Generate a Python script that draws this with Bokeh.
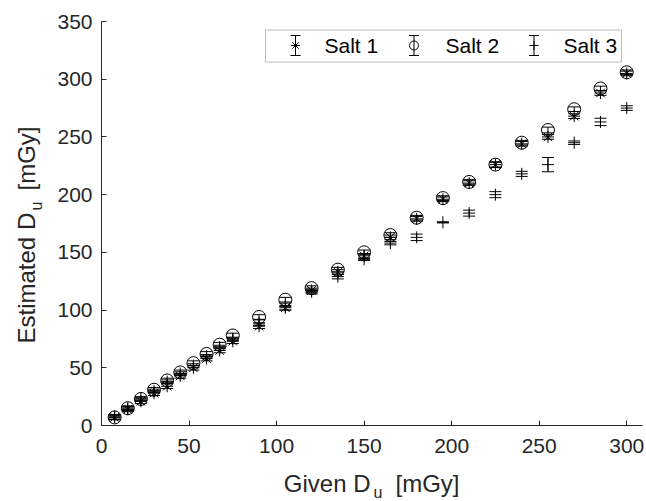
import math
from bokeh.plotting import figure
from bokeh.layouts import row, column
from bokeh.models import (ColumnDataSource, Whisker, TeeHead, FixedTicker, Range1d,
                          Label, BoxAnnotation)
from bokeh.embed import file_html
from bokeh.resources import INLINE

# ---------------- data ----------------
given_dose = [7.5, 15, 22.5, 30, 37.5, 45, 52.5, 60, 67.5, 75, 90, 105, 120,
              135, 150, 165, 180, 195, 210, 225, 240, 255, 270, 285, 300]

salt1 = [7, 14, 21, 28, 34, 43, 50, 58, 65, 73, 86, 102, 117,
         133, 147, 163, 179, 196, 210, 226, 244, 250, 268, 288, 305]
salt1_err = [2, 2, 2, 2, 2, 2, 2, 2, 2, 2, 2, 2, 2,
             2, 2, 2, 2, 2, 2, 2, 2, 2, 2, 2, 2]

salt2 = [7, 15, 23, 31, 39, 46, 54, 62, 70, 78, 94, 109, 119,
         135, 150, 165, 180, 197, 211, 226, 245, 256, 274, 292, 306]
salt2_err = [2, 2, 2, 2, 2, 2, 2, 2, 2, 2, 2, 2, 2,
             2, 2, 2, 2, 2, 2, 2.5, 2, 2.5, 2, 2, 2]

salt3 = [8, 15, 23, 30, 38, 45, 52, 60, 68, 75, 89, 103, 116,
         129, 144, 158, 163, 176, 184, 200, 218, 226, 245, 263, 275]
salt3_err = [1.5, 1.5, 1.5, 1.5, 1.5, 1.5, 1.5, 1.5, 1.5, 1.5, 2.5, 3, 2,
             2, 1, 1.5, 2.8, 0.5, 2.6, 2.6, 2.2, 6.2, 1.5, 3.2, 2]

series_names = ["Salt 1", "Salt 2", "Salt 3"]
x_label_parts = ["Given D", "u", "[mGy]"]
y_label_parts = ["Estimated D", "u", "[mGy]"]
x_ticks = [0, 50, 100, 150, 200, 250, 300]
y_ticks = [0, 50, 100, 150, 200, 250, 300, 350]
x_max, y_max = 309, 350

# ---------------- layout (page pixels) ----------------
W, H = 646, 501
LEFT_STRIP = 50          # width of the strip holding the y label
BOTTOM_STRIP = 35        # height of the strip holding the x label
FL, FR, FT, FB = 101, 642, 21, 425   # frame edges on the page
AX = "#262626"
FONT = "Liberation Sans"
LBL = "24px"
SUB = "16px"
OFF_L = 9   # anchor shift so the rendered baseline lands where wanted
OFF_S = 6


def fx(px):
    return (px - FL) / (FR - FL) * x_max


def fy(py):
    return (FB - py) / (FB - FT) * y_max


main_w = W - LEFT_STRIP
main_h = H - BOTTOM_STRIP
p = figure(width=main_w, height=main_h, x_range=Range1d(0, x_max), y_range=Range1d(0, y_max),
           output_backend="svg", toolbar_location=None, title=None,
           min_border_left=FL - LEFT_STRIP, min_border_right=W - FR,
           min_border_top=FT, min_border_bottom=main_h - FB)
p.outline_line_color = None
p.xgrid.visible = False
p.ygrid.visible = False

for ax, ticks, standoff in ((p.xaxis[0], x_ticks, 13), (p.yaxis[0], y_ticks, 9)):
    ax.ticker = FixedTicker(ticks=ticks)
    ax.minor_tick_line_color = None
    ax.major_tick_in = 5
    ax.major_tick_out = 0
    ax.major_tick_line_color = AX
    ax.axis_line_color = AX
    ax.major_label_text_color = AX
    ax.major_label_text_font = FONT
    ax.major_label_text_font_size = "21px"
    ax.major_label_standoff = standoff
    ax.axis_label = None

# ---------------- data marks ----------------
specs = [
    (salt1, salt1_err, "asterisk", 12),
    (salt2, salt2_err, "circle", 13),
    (salt3, salt3_err, "cross", 12),
]
for vals, errs, marker, size in specs:
    src = ColumnDataSource(dict(
        x=given_dose, y=vals,
        upper=[v + e for v, e in zip(vals, errs)],
        lower=[v - e for v, e in zip(vals, errs)],
    ))
    w = Whisker(source=src, base="x", upper="upper", lower="lower", dimension="height",
                line_color="black", line_width=1,
                upper_head=TeeHead(size=12, line_color="black", line_width=1),
                lower_head=TeeHead(size=12, line_color="black", line_width=1))
    p.add_layout(w)
    p.scatter("x", "y", source=src, marker=marker, size=size,
              line_color="black", fill_color=None, line_width=1)

# ---------------- legend (drawn manually) ----------------
leg_l, leg_r, leg_t, leg_b = 265, 621, 29.5, 61.5
p.add_layout(BoxAnnotation(left=fx(leg_l), right=fx(leg_r), top=fy(leg_t), bottom=fy(leg_b),
                           fill_color="white", fill_alpha=1.0, line_color=AX, line_width=1,
                           level="annotation"))
leg_y = 45
sym_x = [295, 413.5, 533.5]
txt_x = [324, 445, 563]
markers = ["asterisk", "circle", "cross"]
for sx, tx, mk, name in zip(sym_x, txt_x, markers, series_names):
    p.segment(x0=[fx(sx), fx(sx - 5), fx(sx - 5)],
              y0=[fy(leg_y - 10), fy(leg_y - 10), fy(leg_y + 10)],
              x1=[fx(sx), fx(sx + 5), fx(sx + 5)],
              y1=[fy(leg_y + 10), fy(leg_y - 10), fy(leg_y + 10)],
              line_color="black", line_width=1, level="overlay")
    p.scatter(x=[fx(sx)], y=[fy(leg_y)], marker=mk, size=9, line_color="black",
              fill_color=None, line_width=1, level="overlay")
    p.add_layout(Label(x=fx(tx), y=fy(leg_y), text=name, text_align="left",
                       text_baseline="middle", text_font=FONT, text_font_size="21px",
                       text_color="black", level="overlay"))


# ---------------- strips for the axis titles (with subscripts) ----------------
# Their borders repeat the main frame's edges, so Bokeh's frame alignment in
# row/column layouts changes nothing, and their ranges are page pixels.
def strip(w, h, xr, yr, bl, br, bt, bb):
    f = figure(width=w, height=h, x_range=Range1d(*xr), y_range=Range1d(*yr),
               output_backend="svg", toolbar_location=None, title=None,
               x_axis_location=None, y_axis_location=None,
               min_border_left=bl, min_border_right=br, min_border_top=bt, min_border_bottom=bb)
    f.outline_line_color = None
    f.xgrid.visible = False
    f.ygrid.visible = False
    return f


def put(fig, x, y, text, size, align, angle=0.0):
    fig.add_layout(Label(x=x, y=y, text=text, text_align=align, text_baseline="alphabetic",
                         angle=angle, text_font=FONT, text_font_size=size, text_color=AX))


flip = lambda py: H - py   # page y (down) -> strip y (up)

# bottom strip: frame spans page x FL..FR and page y main_h..H
bs = strip(main_w, BOTTOM_STRIP, (FL, FR), (0, BOTTOM_STRIP),
           FL - LEFT_STRIP, W - FR, 0, 0)
put(bs, 370, flip(492 - OFF_L), x_label_parts[0], LBL, "right")
put(bs, 373, flip(498 - OFF_S), x_label_parts[1], SUB, "left")
put(bs, 395, flip(492 - OFF_L), x_label_parts[2], LBL, "left")

# left strip: frame spans page x 0..LEFT_STRIP and page y FT..H
ls = strip(LEFT_STRIP, H, (0, LEFT_STRIP), (0, H - FT), 0, 0, FT, 0)
put(ls, 35 - OFF_L, flip(343), y_label_parts[0], LBL, "left", math.pi / 2)
put(ls, 42 - OFF_S, flip(210), y_label_parts[1], SUB, "left", math.pi / 2)
put(ls, 35 - OFF_L, flip(190), y_label_parts[2], LBL, "left", math.pi / 2)

layout = row(ls, column(p, bs, spacing=0), spacing=0)
open("out.html", "w").write(file_html(layout, INLINE))
